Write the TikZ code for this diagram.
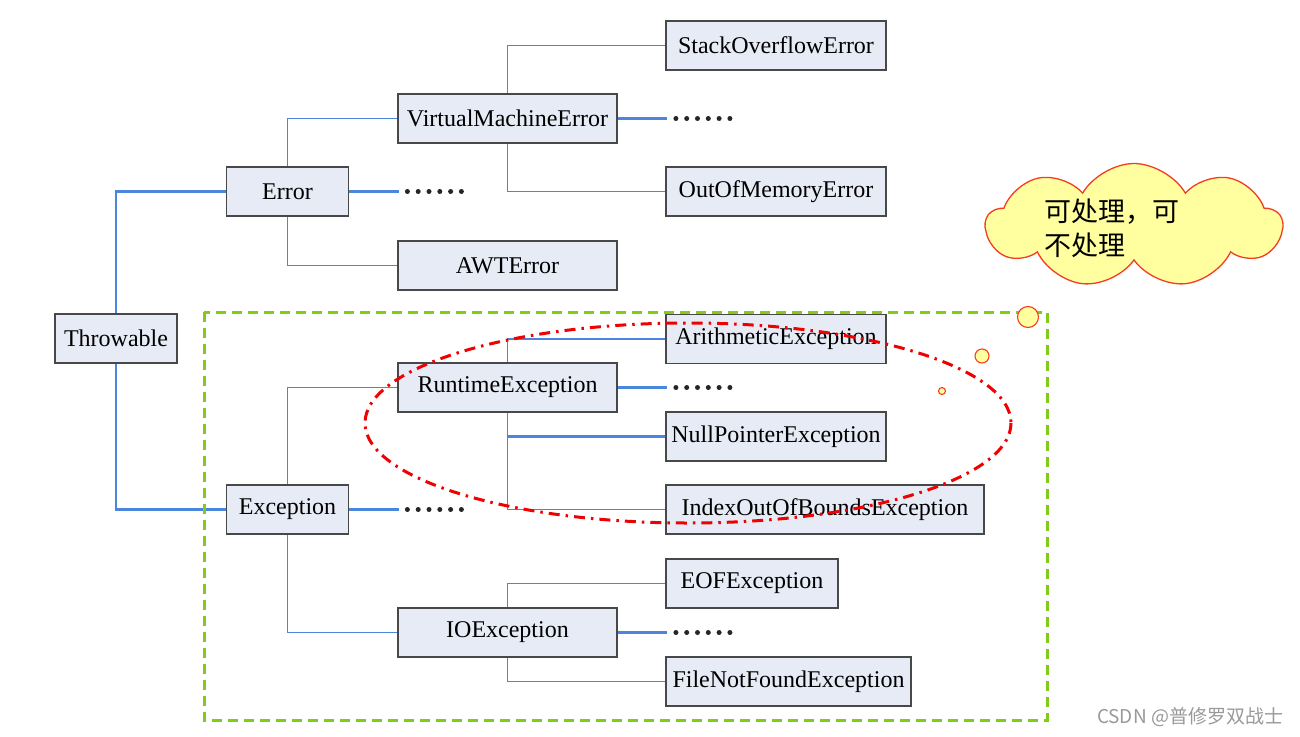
\documentclass[tikz,border=0pt]{standalone}
\usepackage{fontspec}
\setmainfont{Liberation Serif}
\newfontfamily\cjk{Noto Sans CJK SC}
\usetikzlibrary{shapes.symbols}
\definecolor{boxfill}{RGB}{231,235,246}
\definecolor{boxline}{RGB}{72,72,72}
\definecolor{linkblue}{RGB}{74,134,222}
\definecolor{zonegreen}{RGB}{128,204,24}
\definecolor{notered}{RGB}{240,0,0}
\definecolor{cloudfill}{RGB}{255,255,160}
\definecolor{cloudline}{RGB}{245,60,30}
\begin{document}
\begin{tikzpicture}[x=1pt, y=-1pt,
class node/.style={rectangle,draw=boxline,fill=boxfill,line width=1.8pt,minimum height=49pt,inner sep=2pt,font=\fontsize{24}{28}\selectfont},
thin link/.style={draw=linkblue,line width=1.8pt},
thick link/.style={draw=linkblue,line width=2.6pt},
more dots/.style={draw=black!85,line width=5pt,line cap=round,dash pattern=on 0pt off 10.8pt}]
\useasboundingbox (0,0) rectangle (1300,736);
\begin{scope}[every node/.style={class node}]
\node[minimum width=122pt] (thr) at (116,338.5) {Throwable};
\node[minimum width=122pt] (err) at (287.5,191.5) {Error};
\node[minimum width=219pt] (vme) at (507.5,118.5) {VirtualMachineError};
\node[minimum width=219pt] (awt) at (507.5,265.5) {AWTError};
\node[minimum width=220pt] (soe) at (776,45.5) {StackOverflowError};
\node[minimum width=220pt] (oom) at (776,191.5) {OutOfMemoryError};
\node[minimum width=122pt] (exc) at (287.5,509.5) {Exception};
\node[minimum width=219pt] (rte) at (507.5,387.5) {RuntimeException};
\node[minimum width=219pt] (ioe) at (507.5,632.5) {IOException};
\node[minimum width=220pt] (ari) at (776,339) {ArithmeticException};
\node[minimum width=220pt] (npe) at (776,436.5) {NullPointerException};
\node[minimum width=318pt] (ioob) at (825,509.5) {IndexOutOfBoundsException};
\node[minimum width=172pt] (eof) at (752,583.5) {EOFException};
\node[minimum width=245pt] (fnf) at (788.5,681.5) {FileNotFoundException};
%\node[minimum width=pt] () at (,) {};
\end{scope}
\begin{scope}
\draw[thick link] (thr.north) |- (err.west);
\draw[thick link] (thr.south) |- (exc.west);
\draw[thin link] (err.north) |- (vme.west);
\draw[thin link] (err.south) |- (awt.west);
\draw[thin link] (vme.north) |- (soe.west);
\draw[thin link] (vme.south) |- (oom.west);
\draw[thin link] (exc.north) |- (rte.west);
\draw[thin link] (exc.south) |- (ioe.west);
\draw[thin link] (rte.north) |- (ari.west);
\draw[thin link] (rte.south) |- (ioob.west);
\draw[thick link] (rte.south |- npe.west) -- (npe.west);
\draw[thin link] (ioe.north) |- (eof.west);
\draw[thin link] (ioe.south) |- (fnf.west);
%\draw[thin link] () |- ();
\end{scope}
\begin{scope}
\draw[thick link] (err.east) -- ++(50,0) coordinate (errmore);
\draw[thick link] (vme.east) -- ++(49,0) coordinate (vmemore);
\draw[thick link] (exc.east) -- ++(50,0) coordinate (excmore);
\draw[thick link] (rte.east) -- ++(49,0) coordinate (rtemore);
\draw[thick link] (ioe.east) -- ++(49,0) coordinate (ioemore);
\draw[more dots] ([xshift=8pt]errmore) -- ++(54.5,0);
\draw[more dots] ([xshift=9pt]vmemore) -- ++(54.5,0);
\draw[more dots] ([xshift=8pt]excmore) -- ++(54.5,0);
\draw[more dots] ([xshift=9pt]rtemore) -- ++(54.5,0);
\draw[more dots] ([xshift=9pt]ioemore) -- ++(54.5,0);
\end{scope}
\draw[zonegreen,line width=3pt,dash pattern=on 10pt off 6pt] (204,312) rectangle (1047,720);
\draw[notered,line width=3pt,dash pattern=on 11pt off 6pt on 2.5pt off 6pt] (688,423) ellipse [x radius=323, y radius=100];
\begin{scope}[draw=cloudline,fill=cloudfill,line width=1.1pt]
\filldraw (1028,317) circle [radius=10.5];
\filldraw (982,356) circle [radius=7];
\filldraw (942,391) circle [radius=3.5];
\end{scope}
\node[cloud,cloud puffs=9,cloud puff arc=120,aspect=2.3,draw=cloudline,fill=cloudfill,line width=1.3pt,minimum width=296pt,minimum height=124pt] (care) at (1134,225.5) {};
\node[font=\cjk\fontsize{27}{34}\selectfont,align=left] (caretext) at (1112,228) {可处理，可\\不处理};
\node[font=\cjk\fontsize{19}{22}\selectfont,text=black!40] (mark) at (1190,717) {CSDN @普修罗双战士};
\end{tikzpicture}
\end{document}
